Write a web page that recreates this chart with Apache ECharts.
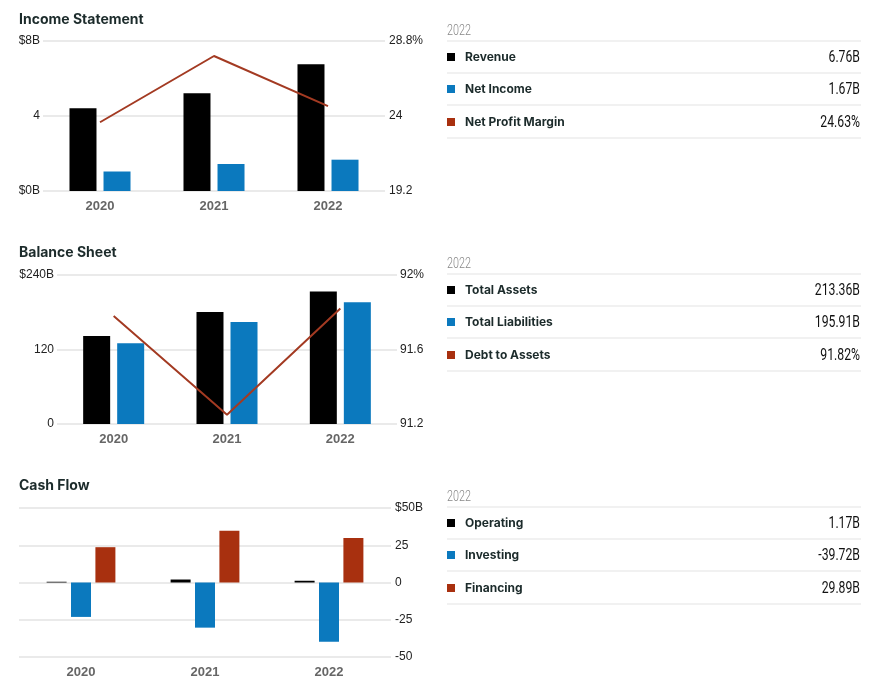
<!DOCTYPE html>
<html>
<head>
<meta charset="utf-8">
<script src="https://cdn.jsdelivr.net/npm/echarts@6/dist/echarts.min.js"></script>
<style>
html,body{margin:0;padding:0;background:#fff;}
#c{width:887px;height:688px;}
</style>
</head>
<body>
<div id="c"></div>
<script>
var years = ['2020', '2021', '2022'];
var revenue = [4.41, 5.21, 6.76];
var netIncome = [1.04, 1.44, 1.67];
var netMargin = [23.6, 27.84, 24.63];
var totalAssets = [141.7, 180.4, 213.36];
var totalLiabilities = [130.0, 164.3, 195.91];
var debtToAssets = [91.78, 91.25, 91.82];
var operating = [0.5, 2.0, 1.17];
var investing = [-23.1, -30.3, -39.72];
var financing = [23.7, 34.7, 29.89];

var tables = [
  {year: '2022', rows: [['Revenue', '6.76B'], ['Net Income', '1.67B'], ['Net Profit Margin', '24.63%']]},
  {year: '2022', rows: [['Total Assets', '213.36B'], ['Total Liabilities', '195.91B'], ['Debt to Assets', '91.82%']]},
  {year: '2022', rows: [['Operating', '1.17B'], ['Investing', '-39.72B'], ['Financing', '29.89B']]}
];

var BLACK = '#000000', BLUE = '#0B79BE', RED = '#A8300F', LINE = '#A33A22';
var swatch = [BLACK, BLUE, RED];
var gridLine = {show: true, lineStyle: {color: '#e3e3e3', width: 1.5}};
var axLab = {color: '#222', fontSize: 12, fontFamily: 'Liberation Sans, Arial, sans-serif'};
var xLab = {color: '#666', fontSize: 13, fontWeight: 'bold', margin: 9, fontFamily: 'Liberation Sans, Arial, sans-serif'};
var condensed = 'Roboto, sans-serif';

function fmt(maxV, maxText) {
  return function (v) {
    if (Math.abs(v - maxV) < 1e-6) return maxText;
    return String(Math.round(v * 100) / 100);
  };
}

var titles = [
  {text: 'Income Statement', left: 14, top: 8},
  {text: 'Balance Sheet', left: 14, top: 241},
  {text: 'Cash Flow', left: 14, top: 474}
].map(function (t) {
  t.textStyle = {fontSize: 14, fontWeight: 'bold', color: '#1c2b2b', fontFamily: 'Inter, "Liberation Sans", sans-serif'};
  return t;
});

var graphics = [];
var baseY = [31, 264, 497];
tables.forEach(function (tb, ti) {
  var y0 = baseY[ti];
  graphics.push({type: 'text', x: 447, y: y0, scaleX: 0.72, style: {text: tb.year, fill: '#888', fontSize: 15, fontWeight: 300, textVerticalAlign: 'middle', fontFamily: condensed}});
  var lines = [10, 42, 74, 107];
  lines.forEach(function (dy) {
    graphics.push({type: 'line', shape: {x1: 447, y1: y0 + dy, x2: 861, y2: y0 + dy}, style: {stroke: '#e3e3e3', lineWidth: 1}});
  });
  var rowY = [26, 58, 91];
  tb.rows.forEach(function (r, ri) {
    var cy = y0 + rowY[ri];
    graphics.push({type: 'rect', shape: {x: 447, y: cy - 4, width: 8, height: 8}, style: {fill: swatch[ri]}});
    graphics.push({type: 'text', x: 465, y: cy, style: {text: r[0], fill: '#1c2b2b', fontSize: 12, fontWeight: 'bold', textVerticalAlign: 'middle', fontFamily: 'Inter, "Liberation Sans", sans-serif'}});
    graphics.push({type: 'text', x: 860, y: cy + 1, scaleX: 0.72, style: {text: r[1], fill: '#111', fontSize: 17, textAlign: 'right', textVerticalAlign: 'middle', fontFamily: condensed}});
  });
});

var option = {
  animation: false,
  title: titles,
  grid: [
    {left: 43, top: 41, width: 342, height: 150},
    {left: 57, top: 275, width: 340, height: 149},
    {left: 19, top: 508, width: 372, height: 149}
  ],
  xAxis: [0, 1, 2].map(function (i) {
    return {type: 'category', gridIndex: i, data: years, axisLine: {show: false}, axisTick: {show: false}, axisLabel: xLab};
  }),
  yAxis: [
    {type: 'value', gridIndex: 0, position: 'left', min: 0, max: 8, interval: 4, splitLine: gridLine,
      axisLabel: Object.assign({}, axLab, {margin: 3, formatter: function (v) { return v === 0 ? '$0B' : (v === 8 ? '$8B' : String(v)); }})},
    {type: 'value', gridIndex: 0, position: 'right', min: 19.2, max: 28.8, interval: 4.8, splitLine: {show: false},
      axisLabel: Object.assign({}, axLab, {margin: 4, formatter: fmt(28.8, '28.8%')})},
    {type: 'value', gridIndex: 1, position: 'left', min: 0, max: 240, interval: 120, splitLine: gridLine,
      axisLabel: Object.assign({}, axLab, {margin: 3, formatter: function (v) { return v === 240 ? '$240B' : String(v); }})},
    {type: 'value', gridIndex: 1, position: 'right', min: 91.2, max: 92, interval: 0.4, splitLine: {show: false},
      axisLabel: Object.assign({}, axLab, {margin: 3, formatter: fmt(92, '92%')})},
    {type: 'value', gridIndex: 2, position: 'right', min: -50, max: 50, interval: 25, splitLine: gridLine,
      axisLabel: Object.assign({}, axLab, {margin: 4, formatter: function (v) { return v === 50 ? '$50B' : String(v); }})}
  ],
  series: [
    {type: 'bar', xAxisIndex: 0, yAxisIndex: 0, data: revenue, barWidth: 27, barGap: '26%', itemStyle: {color: BLACK}},
    {type: 'bar', xAxisIndex: 0, yAxisIndex: 0, data: netIncome, barWidth: 27, barGap: '26%', itemStyle: {color: BLUE}},
    {type: 'line', xAxisIndex: 0, yAxisIndex: 1, data: netMargin, symbol: 'none', lineStyle: {color: LINE, width: 2}, z: 5},
    {type: 'bar', xAxisIndex: 1, yAxisIndex: 2, data: totalAssets, barWidth: 27, barGap: '26%', itemStyle: {color: BLACK}},
    {type: 'bar', xAxisIndex: 1, yAxisIndex: 2, data: totalLiabilities, barWidth: 27, barGap: '26%', itemStyle: {color: BLUE}},
    {type: 'line', xAxisIndex: 1, yAxisIndex: 3, data: debtToAssets, symbol: 'none', lineStyle: {color: LINE, width: 2}, z: 5},
    {type: 'bar', xAxisIndex: 2, yAxisIndex: 4, data: operating, barWidth: 20, barGap: '22%', itemStyle: {color: BLACK}},
    {type: 'bar', xAxisIndex: 2, yAxisIndex: 4, data: investing, barWidth: 20, barGap: '22%', itemStyle: {color: BLUE}},
    {type: 'bar', xAxisIndex: 2, yAxisIndex: 4, data: financing, barWidth: 20, barGap: '22%', itemStyle: {color: RED}}
  ],
  graphic: graphics
};

var chart = echarts.init(document.getElementById('c'), null, {renderer: 'canvas'});
chart.setOption(option);
</script>
</body>
</html>
